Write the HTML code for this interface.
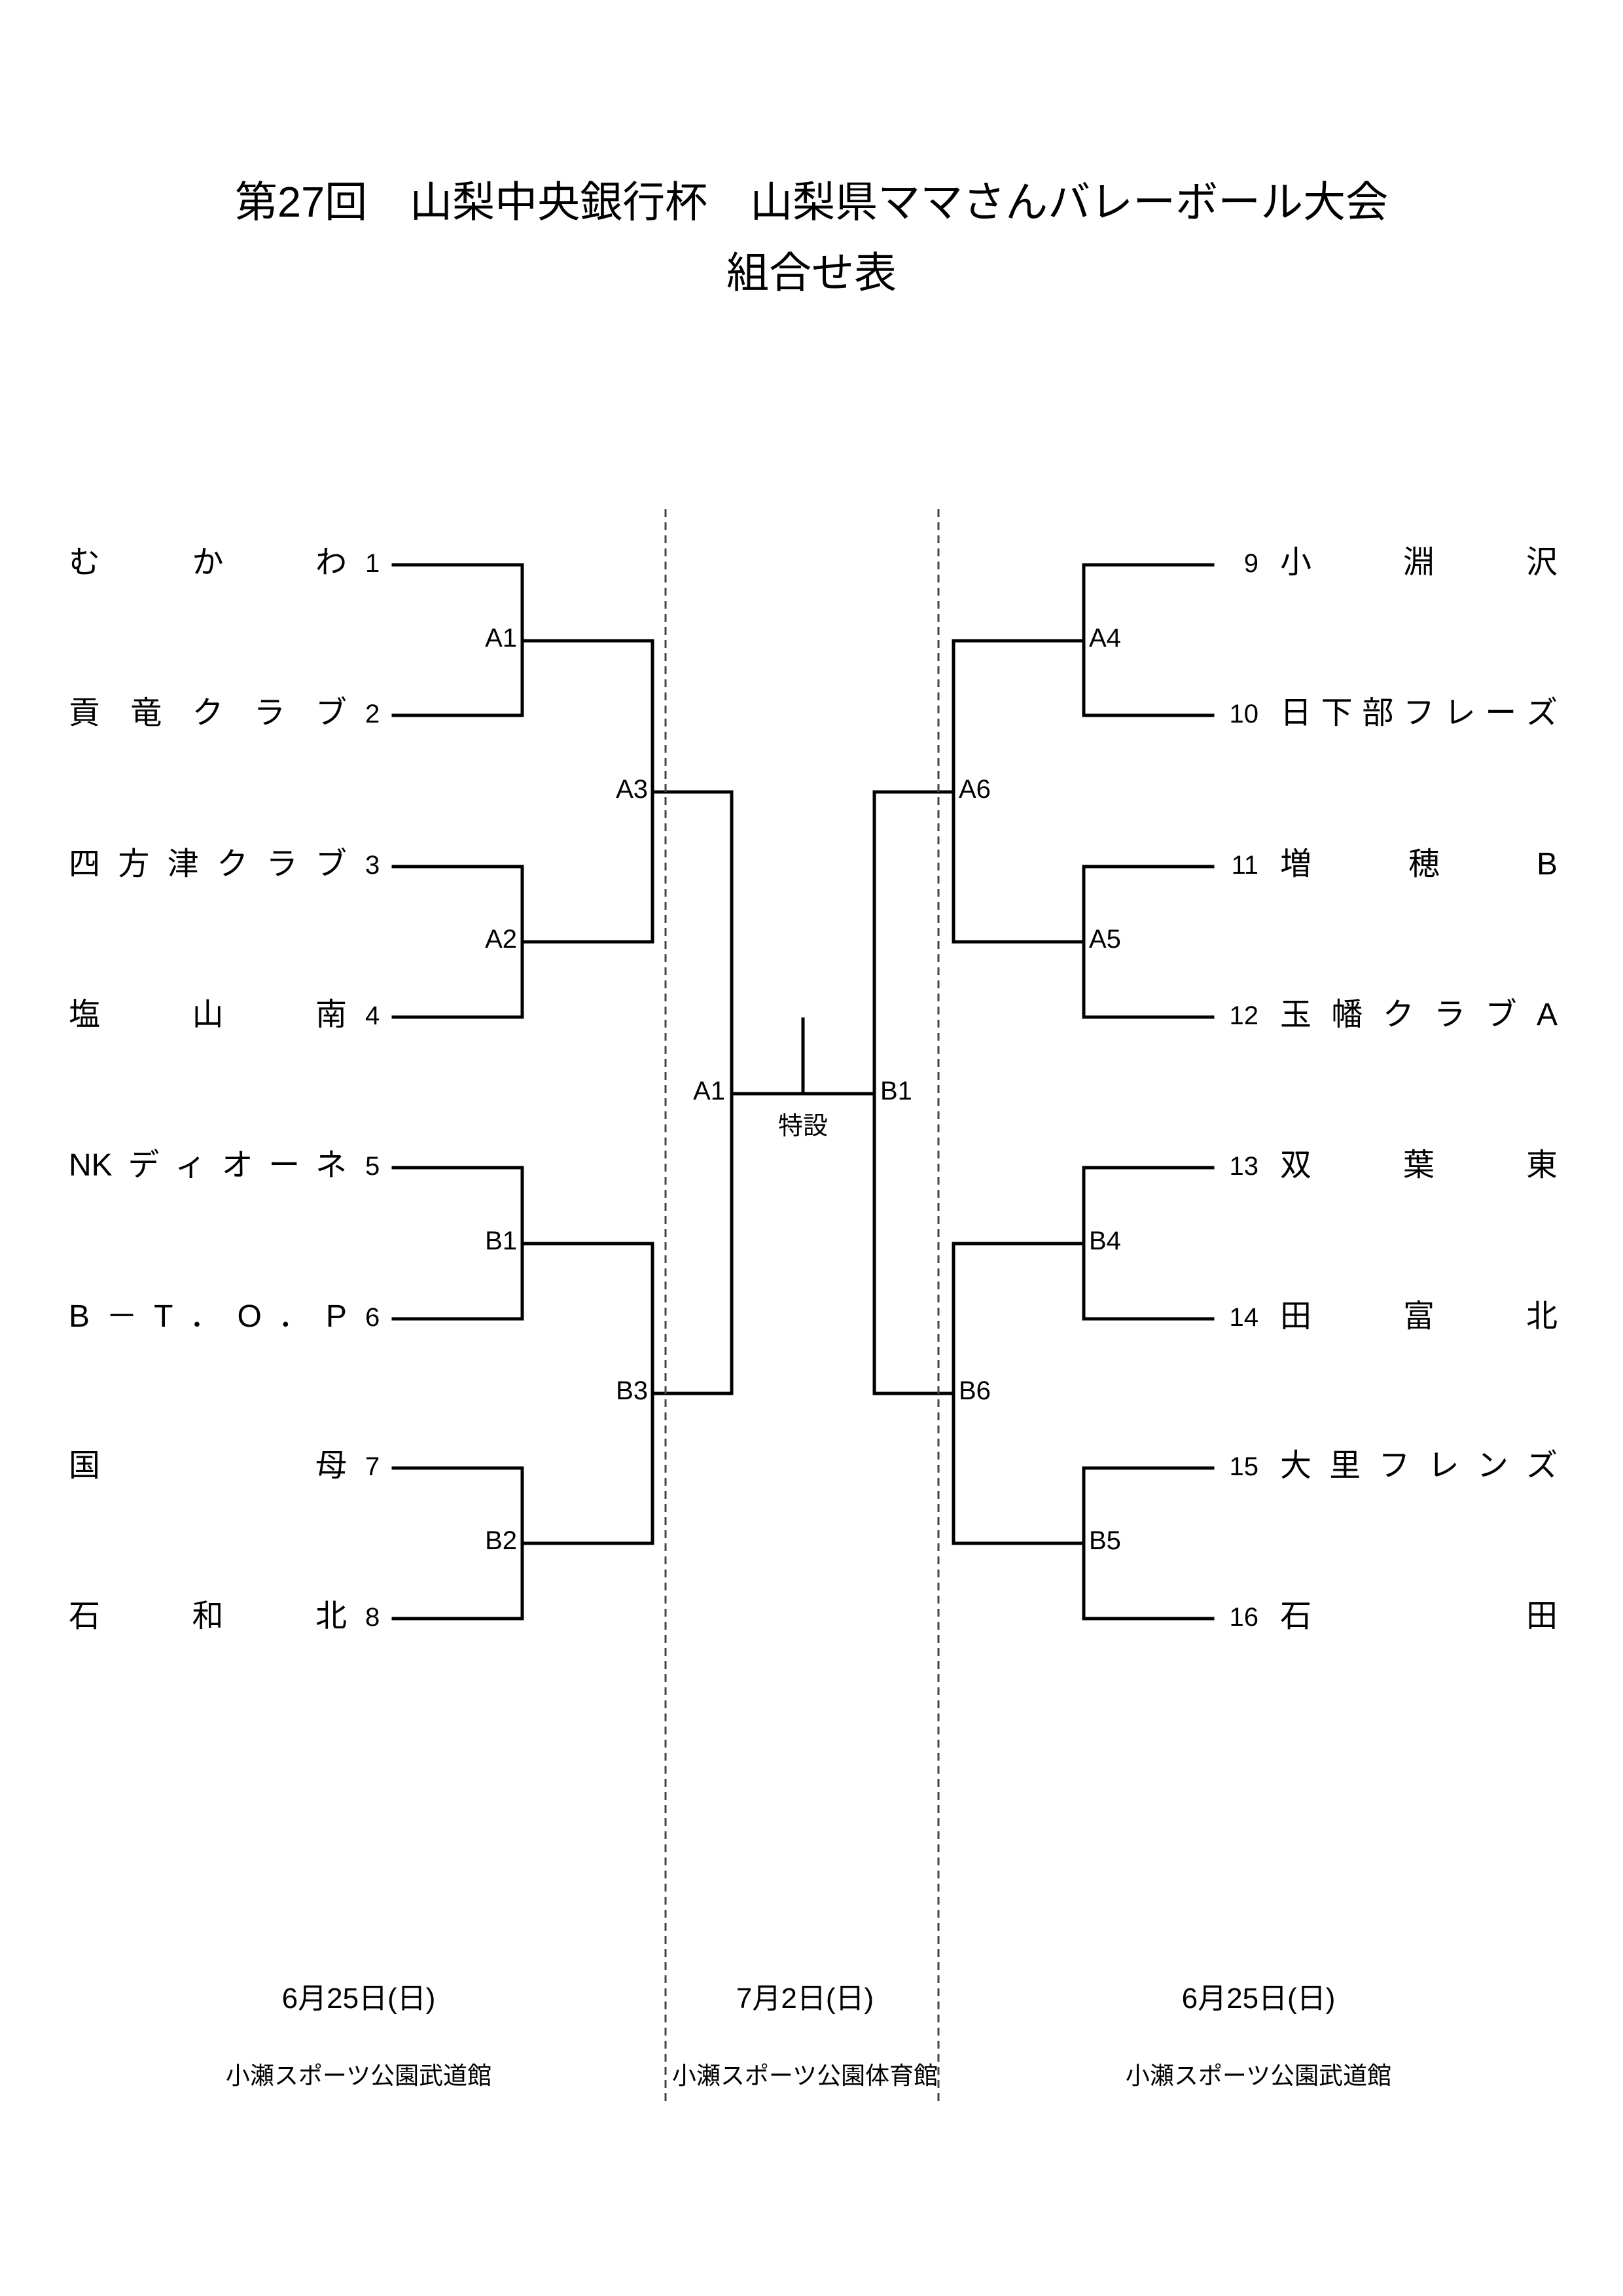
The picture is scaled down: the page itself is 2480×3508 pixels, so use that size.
<!DOCTYPE html>
<html><head><meta charset="utf-8"><style>
html,body{margin:0;padding:0;background:#fff}
body{width:2480px;height:3508px;position:relative;overflow:hidden;font-family:"Liberation Sans","Noto Sans CJK JP",sans-serif;color:#000}
.t{position:absolute;white-space:nowrap;line-height:1}
.n{position:absolute;display:flex;justify-content:space-between;align-items:center;height:60px;font-size:48px;line-height:1}
.num{position:absolute;font-size:40px;line-height:60px;height:60px}
.lab{position:absolute;font-size:40px;line-height:50px;height:50px}
svg{position:absolute;left:0;top:0}
</style></head><body>
<svg width="2480" height="3508" xmlns="http://www.w3.org/2000/svg">
<g stroke="#000" stroke-width="5" fill="none" stroke-linecap="square">
<path d="M601 863H798V1093H601"/><path d="M601 1324H798V1554H601"/>
<path d="M601 1784H798V2015H601"/><path d="M601 2243H798V2473H601"/>
<path d="M798 979H997V1439H798"/><path d="M798 1900H997V2358H798"/>
<path d="M997 1210H1118V2129H997"/>
<path d="M1853 863H1656V1093H1853"/><path d="M1853 1324H1656V1554H1853"/>
<path d="M1853 1784H1656V2015H1853"/><path d="M1853 2243H1656V2473H1853"/>
<path d="M1656 979H1457V1439H1656"/><path d="M1656 1900H1457V2358H1656"/>
<path d="M1457 1210H1336V2129H1457"/>
<path d="M1118 1671H1336"/><path d="M1227 1557V1671"/>
</g>
<g stroke="#444" stroke-width="3" stroke-dasharray="12 8">
<path d="M1017 778V3218"/><path d="M1434 778V3210"/>
</g>
</svg>

<div class="t" style="left:0;width:2480px;text-align:center;top:276px;font-size:65px">第27回　山梨中央銀行杯　山梨県ママさんバレーボール大会</div>
<div class="t" style="left:0;width:2480px;text-align:center;top:384px;font-size:65px">組合せ表</div>

<div class="n" style="left:105px;width:425px;top:830px"><span>む</span><span>か</span><span>わ</span></div>
<div class="n" style="left:105px;width:425px;top:1060px"><span>貢</span><span>竜</span><span>ク</span><span>ラ</span><span>ブ</span></div>
<div class="n" style="left:105px;width:425px;top:1291px"><span>四</span><span>方</span><span>津</span><span>ク</span><span>ラ</span><span>ブ</span></div>
<div class="n" style="left:105px;width:425px;top:1521px"><span>塩</span><span>山</span><span>南</span></div>
<div class="n" style="left:105px;width:425px;top:1751px"><span>NK</span><span>デ</span><span>ィ</span><span>オ</span><span>ー</span><span>ネ</span></div>
<div class="n" style="left:105px;width:425px;top:1982px"><span>B</span><span>－</span><span>T</span><span>．</span><span>O</span><span>．</span><span>P</span></div>
<div class="n" style="left:105px;width:425px;top:2210px"><span>国</span><span>母</span></div>
<div class="n" style="left:105px;width:425px;top:2440px"><span>石</span><span>和</span><span>北</span></div>

<div class="num" style="left:558px;top:831px">1</div>
<div class="num" style="left:558px;top:1061px">2</div>
<div class="num" style="left:558px;top:1292px">3</div>
<div class="num" style="left:558px;top:1522px">4</div>
<div class="num" style="left:558px;top:1752px">5</div>
<div class="num" style="left:558px;top:1983px">6</div>
<div class="num" style="left:558px;top:2211px">7</div>
<div class="num" style="left:558px;top:2441px">8</div>

<div class="n" style="left:1956px;width:424px;top:830px"><span>小</span><span>淵</span><span>沢</span></div>
<div class="n" style="left:1956px;width:424px;top:1060px"><span>日</span><span>下</span><span>部</span><span>フ</span><span>レ</span><span>ー</span><span>ズ</span></div>
<div class="n" style="left:1956px;width:424px;top:1291px"><span>増</span><span>穂</span><span>B</span></div>
<div class="n" style="left:1956px;width:424px;top:1521px"><span>玉</span><span>幡</span><span>ク</span><span>ラ</span><span>ブ</span><span>A</span></div>
<div class="n" style="left:1956px;width:424px;top:1751px"><span>双</span><span>葉</span><span>東</span></div>
<div class="n" style="left:1956px;width:424px;top:1982px"><span>田</span><span>富</span><span>北</span></div>
<div class="n" style="left:1956px;width:424px;top:2210px"><span>大</span><span>里</span><span>フ</span><span>レ</span><span>ン</span><span>ズ</span></div>
<div class="n" style="left:1956px;width:424px;top:2440px"><span>石</span><span>田</span></div>

<div class="num" style="left:1823px;width:100px;text-align:right;top:831px">9</div>
<div class="num" style="left:1823px;width:100px;text-align:right;top:1061px">10</div>
<div class="num" style="left:1823px;width:100px;text-align:right;top:1292px">11</div>
<div class="num" style="left:1823px;width:100px;text-align:right;top:1522px">12</div>
<div class="num" style="left:1823px;width:100px;text-align:right;top:1752px">13</div>
<div class="num" style="left:1823px;width:100px;text-align:right;top:1983px">14</div>
<div class="num" style="left:1823px;width:100px;text-align:right;top:2211px">15</div>
<div class="num" style="left:1823px;width:100px;text-align:right;top:2441px">16</div>

<div class="lab" style="left:690px;width:100px;text-align:right;top:950px">A1</div>
<div class="lab" style="left:690px;width:100px;text-align:right;top:1410px">A2</div>
<div class="lab" style="left:690px;width:100px;text-align:right;top:1871px">B1</div>
<div class="lab" style="left:690px;width:100px;text-align:right;top:2329px">B2</div>
<div class="lab" style="left:890px;width:100px;text-align:right;top:1181px">A3</div>
<div class="lab" style="left:890px;width:100px;text-align:right;top:2100px">B3</div>
<div class="lab" style="left:1008px;width:100px;text-align:right;top:1642px">A1</div>
<div class="lab" style="left:1664px;top:950px">A4</div>
<div class="lab" style="left:1664px;top:1410px">A5</div>
<div class="lab" style="left:1664px;top:1871px">B4</div>
<div class="lab" style="left:1664px;top:2329px">B5</div>
<div class="lab" style="left:1465px;top:1181px">A6</div>
<div class="lab" style="left:1465px;top:2100px">B6</div>
<div class="lab" style="left:1345px;top:1642px">B1</div>
<div class="t" style="left:1127px;width:200px;text-align:center;top:1702px;font-size:38px">特設</div>

<div class="t" style="left:348px;width:400px;text-align:center;top:3032px;font-size:44px">6月25日(日)</div>
<div class="t" style="left:1030px;width:400px;text-align:center;top:3032px;font-size:44px">7月2日(日)</div>
<div class="t" style="left:1723px;width:400px;text-align:center;top:3032px;font-size:44px">6月25日(日)</div>
<div class="t" style="left:298px;width:500px;text-align:center;top:3153px;font-size:37px">小瀬スポーツ公園武道館</div>
<div class="t" style="left:980px;width:500px;text-align:center;top:3153px;font-size:37px">小瀬スポーツ公園体育館</div>
<div class="t" style="left:1673px;width:500px;text-align:center;top:3153px;font-size:37px">小瀬スポーツ公園武道館</div>
</body></html>
